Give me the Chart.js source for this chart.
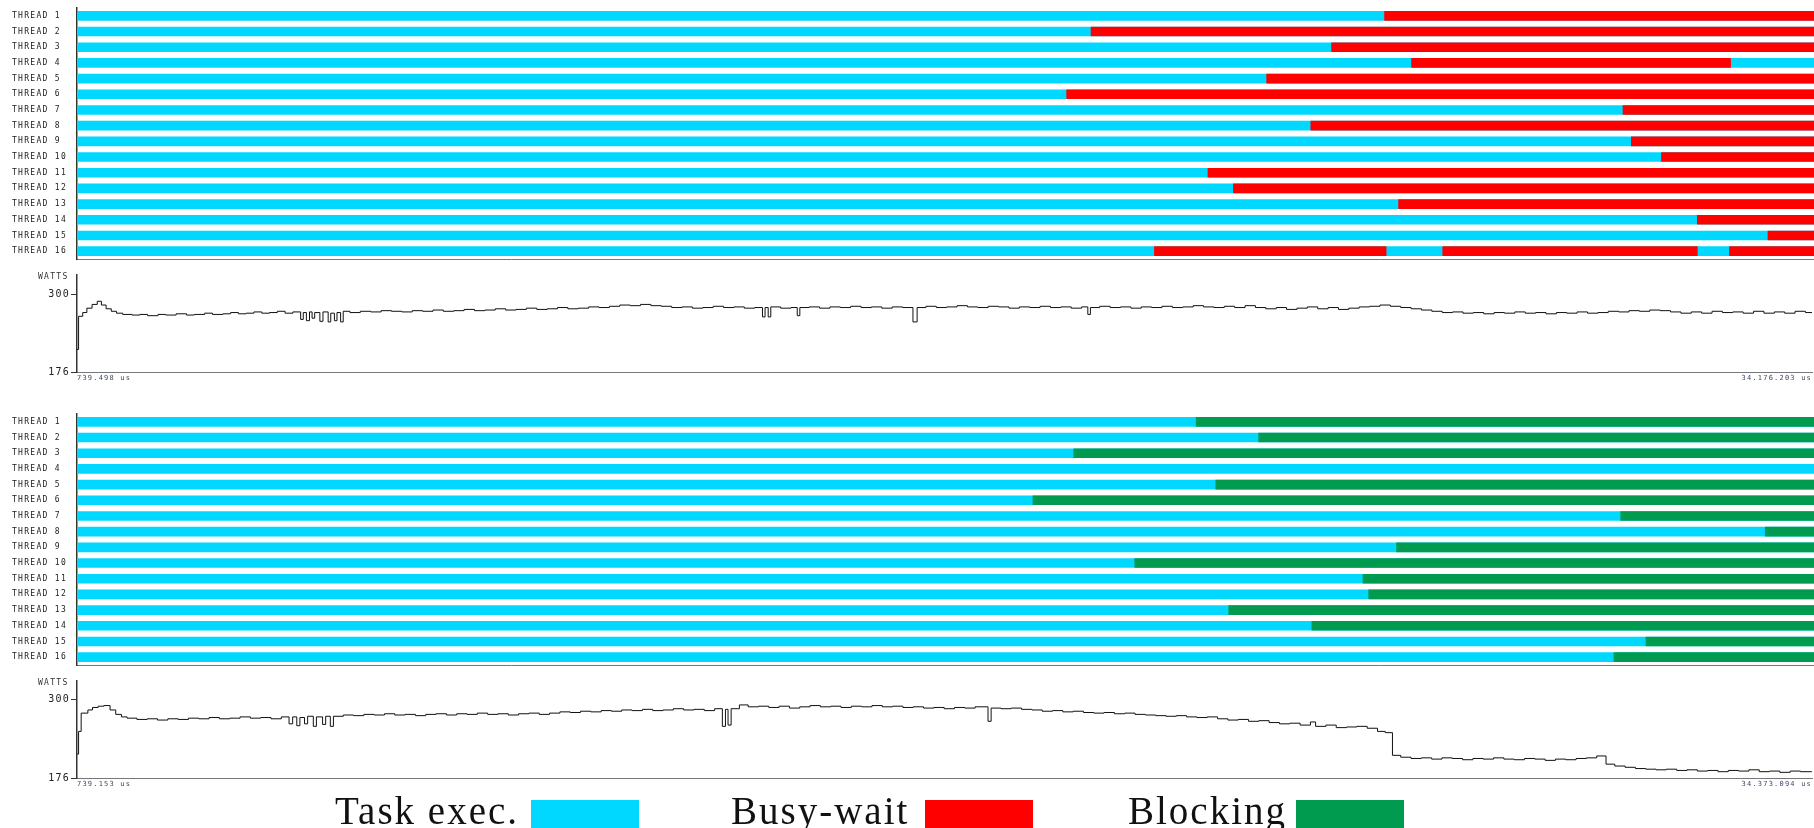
<!DOCTYPE html>
<html>
<head>
<meta charset="utf-8">
<script src="https://cdn.jsdelivr.net/npm/chart.js"></script>
<style>
  body { margin: 0; background: #fff; width: 1814px; height: 828px; overflow: hidden; position: relative; }
  canvas { position: absolute; left: 0; }
  .watts { position: absolute; left: 38px; font: 8px 'DejaVu Sans Mono'; letter-spacing: 1.3px; color: #333; }
  .leg { position: absolute; top: 791px; font: 39px 'Liberation Serif'; line-height: 39px; letter-spacing: 2px; color: #111; }
  .box { position: absolute; top: 800px; width: 108px; height: 30px; }
</style>
</head>
<body>
<canvas id="topThreads" width="1814" height="268" style="top:0px"></canvas>
<canvas id="topPower" width="1814" height="120" style="top:268px"></canvas>
<canvas id="botThreads" width="1814" height="268" style="top:406px"></canvas>
<canvas id="botPower" width="1814" height="120" style="top:674px"></canvas>
<div class="watts" style="top:272px">WATTS</div>
<div class="watts" style="top:678px">WATTS</div>

<div class="leg" style="left:335px">Task exec.</div><div class="box" style="left:531px;background:#00D8FF"></div>
<div class="leg" style="left:731px">Busy-wait</div><div class="box" style="left:925px;background:#FF0000"></div>
<div class="leg" style="left:1128px">Blocking</div><div class="box" style="left:1296px;background:#009B4E"></div>

<script>
// Colours
const EXEC = '#00D8FF';
const BUSY = '#FF0000';
const BLOCK = '#009B4E';

// Thread names
const threads = ['THREAD 1', 'THREAD 2', 'THREAD 3', 'THREAD 4', 'THREAD 5', 'THREAD 6', 'THREAD 7', 'THREAD 8',
                 'THREAD 9', 'THREAD 10', 'THREAD 11', 'THREAD 12', 'THREAD 13', 'THREAD 14', 'THREAD 15', 'THREAD 16'];

// Time ranges of the two runs (ms) and their end labels
const topRange = [0.739498, 34.176203];
const botRange = [0.739153, 34.373094];
const topTimeLabels = ['739.498 us', '34.176.203 us'];
const botTimeLabels = ['739.153 us', '34.373.094 us'];
const wattTicks = [176, 300];

// Busy-wait segments per thread, first run (ms)
const topBusy = [
  [[25.91, 34.18]],
  [[20.26, 34.18]],
  [[24.89, 34.18]],
  [[26.43, 32.57]],
  [[23.64, 34.18]],
  [[19.79, 34.18]],
  [[30.50, 34.18]],
  [[24.49, 34.18]],
  [[30.66, 34.18]],
  [[31.24, 34.18]],
  [[22.51, 34.18]],
  [[23.00, 34.18]],
  [[26.18, 34.18]],
  [[31.93, 34.18]],
  [[33.29, 34.18]],
  [[21.48, 25.94], [27.03, 31.93], [32.55, 34.18]]
];

// Blocking segments per thread, second run (ms)
const botBlock = [
  [[22.41, 34.38]],
  [[23.62, 34.38]],
  [[20.04, 34.38]],
  [],
  [[22.79, 34.38]],
  [[19.25, 34.38]],
  [[30.63, 34.38]],
  [[33.43, 34.38]],
  [[26.29, 34.38]],
  [[21.22, 34.38]],
  [[25.64, 34.38]],
  [[25.75, 34.38]],
  [[23.04, 34.38]],
  [[24.65, 34.38]],
  [[31.12, 34.38]],
  [[30.50, 34.38]]
];

// Power readings [time ms, watts], first run
const topPower = [
  [0.74,212],[0.77,265],[0.85,271],[0.93,278],[1.03,284],[1.13,289],[1.21,283],[1.30,277],[1.40,273],[1.50,270],
  [1.62,268],[1.80,267],[1.95,268],[2.10,266],[2.30,268],[2.45,267],[2.65,269],[2.85,267],[3.00,268],[3.20,270],
  [3.35,268],[3.55,269],[3.70,271],[3.85,269],[4.00,270],[4.15,272],[4.30,270],[4.45,271],[4.60,273],[4.75,270],
  [4.90,272],[5.05,260],[5.10,271],[5.16,258],[5.22,272],[5.27,262],[5.32,271],[5.42,257],[5.48,272],[5.58,256],
  [5.63,270],[5.70,258],[5.75,271],[5.82,256],[5.87,273],[6.00,271],[6.20,273],[6.40,272],[6.60,274],[6.80,273],
  [7.00,272],[7.20,274],[7.40,273],[7.60,275],[7.80,273],[8.00,274],[8.20,276],[8.40,274],[8.60,275],[8.80,277],
  [9.00,275],[9.20,276],[9.40,278],[9.60,276],[9.80,277],[10.00,279],[10.20,277],[10.40,278],[10.60,280],[10.80,279],
  [11.00,281],[11.20,283],[11.40,282],[11.60,284],[11.80,282],[12.00,281],[12.20,279],[12.40,280],[12.60,278],[12.80,279],
  [13.00,281],[13.20,279],[13.40,280],[13.60,278],[13.80,279],[13.95,264],[14.00,279],[14.06,264],[14.11,280],[14.30,278],
  [14.50,279],[14.62,266],[14.67,279],[14.85,280],[15.05,278],[15.25,280],[15.45,279],[15.65,281],[15.85,279],[16.05,280],
  [16.25,278],[16.45,280],[16.65,279],[16.85,256],[16.93,279],[17.10,281],[17.30,279],[17.50,280],[17.70,282],[17.90,280],
  [18.10,279],[18.30,281],[18.50,280],[18.70,278],[18.90,280],[19.10,279],[19.30,281],[19.50,279],[19.70,280],[19.90,278],
  [20.10,280],[20.22,268],[20.27,279],[20.45,281],[20.65,279],[20.85,280],[21.05,278],[21.25,280],[21.45,279],[21.65,281],
  [21.85,279],[22.05,280],[22.25,282],[22.45,280],[22.65,279],[22.85,281],[23.05,279],[23.25,282],[23.45,279],[23.65,277],
  [23.85,279],[24.05,276],[24.25,278],[24.45,280],[24.65,277],[24.85,279],[25.05,276],[25.25,278],[25.45,280],[25.65,281],
  [25.85,283],[26.05,281],[26.25,279],[26.45,277],[26.65,275],[26.85,273],[27.05,271],[27.25,272],[27.45,270],[27.65,271],
  [27.85,269],[28.05,271],[28.25,270],[28.45,272],[28.65,270],[28.85,271],[29.05,269],[29.25,271],[29.45,270],[29.65,272],
  [29.85,270],[30.05,271],[30.25,273],[30.45,272],[30.65,274],[30.85,273],[31.05,275],[31.25,274],[31.45,272],[31.65,270],
  [31.85,272],[32.05,270],[32.25,273],[32.45,271],[32.65,272],[32.85,270],[33.05,273],[33.25,270],[33.45,272],[33.65,270],
  [33.85,273],[34.05,271],[34.18,272]
];

// Power readings [time ms, watts], second run
const botPower = [
  [0.74,214],[0.77,250],[0.82,279],[0.95,284],[1.04,288],[1.15,290],[1.26,291],[1.38,284],[1.49,277],[1.60,273],
  [1.71,271],[1.90,269],[2.10,270],[2.30,268],[2.50,270],[2.70,269],[2.90,271],[3.10,270],[3.30,272],[3.50,270],
  [3.70,271],[3.90,273],[4.10,271],[4.30,272],[4.50,270],[4.70,273],[4.85,262],[4.92,273],[5.00,259],[5.06,272],
  [5.15,262],[5.21,274],[5.32,258],[5.38,273],[5.50,261],[5.56,274],[5.65,258],[5.71,274],[5.90,276],[6.10,275],
  [6.30,277],[6.50,276],[6.70,278],[6.90,276],[7.10,277],[7.30,275],[7.50,277],[7.70,278],[7.90,276],[8.10,278],
  [8.30,277],[8.50,279],[8.70,277],[8.90,278],[9.10,276],[9.30,278],[9.50,279],[9.70,277],[9.90,279],[10.10,281],
  [10.30,280],[10.50,282],[10.70,281],[10.90,283],[11.10,282],[11.30,284],[11.50,283],[11.70,285],[11.90,283],[12.10,284],
  [12.30,286],[12.50,284],[12.70,285],[12.90,283],[13.10,286],[13.25,258],[13.31,285],[13.36,260],[13.42,286],[13.58,292],
  [13.75,289],[13.95,290],[14.15,288],[14.35,290],[14.55,287],[14.75,289],[14.95,291],[15.15,289],[15.35,290],[15.55,288],
  [15.75,290],[15.95,289],[16.15,291],[16.35,289],[16.55,290],[16.75,288],[16.95,289],[17.15,287],[17.35,288],[17.55,286],
  [17.75,288],[17.95,287],[18.15,289],[18.40,266],[18.46,287],[18.65,286],[18.85,287],[19.05,285],[19.25,284],[19.45,282],
  [19.65,283],[19.85,281],[20.05,282],[20.25,280],[20.45,279],[20.65,280],[20.85,278],[21.05,279],[21.25,277],[21.45,276],
  [21.65,275],[21.85,274],[22.05,275],[22.25,273],[22.45,272],[22.65,273],[22.85,270],[23.05,268],[23.25,269],[23.45,266],
  [23.65,267],[23.85,264],[24.05,262],[24.25,263],[24.45,260],[24.65,265],[24.75,258],[24.95,260],[25.15,256],[25.35,257],
  [25.55,258],[25.75,255],[25.95,250],[26.10,248],[26.24,212],[26.40,209],[26.60,207],[26.80,208],[27.00,206],[27.20,208],
  [27.40,207],[27.60,205],[27.80,207],[28.00,206],[28.20,208],[28.40,206],[28.60,205],[28.80,207],[29.00,206],[29.20,204],
  [29.40,206],[29.60,205],[29.80,207],[30.00,208],[30.20,211],[30.38,198],[30.55,195],[30.75,193],[30.95,191],[31.15,190],
  [31.35,189],[31.55,190],[31.75,188],[31.95,189],[32.15,187],[32.35,188],[32.55,186],[32.75,188],[32.95,187],[33.15,189],
  [33.35,186],[33.55,187],[33.75,185],[33.95,187],[34.15,186],[34.37,186]
];

// canvas text spacing (the original uses a wide pixel font)
const spacing = (px) => ({
  id: 'spacing',
  beforeDraw(chart) { chart.ctx.letterSpacing = px; }
});

function threadChart(id, range, segments, segColor) {
  // task execution fills the whole run, drawn underneath
  const datasets = [{
    data: threads.map(() => range),
    backgroundColor: EXEC,
    grouped: false,
    barThickness: 9,
    order: 10
  }];
  const maxSeg = Math.max(...segments.map(s => s.length));
  for (let k = 0; k < maxSeg; k++) {
    datasets.push({
      data: segments.map(s => s[k] || null),
      backgroundColor: segColor,
      grouped: false,
      barThickness: 9,
      order: 0
    });
  }
  return new Chart(document.getElementById(id), {
    type: 'bar',
    data: { labels: threads, datasets: datasets },
    options: {
      indexAxis: 'y',
      responsive: false,
      animation: false,
      layout: { padding: { left: 12, top: 8, bottom: 1, right: 0 } },
      plugins: { legend: { display: false }, tooltip: { enabled: false } },
      scales: {
        x: {
          type: 'linear', min: range[0], max: range[1],
          grid: { display: false },
          ticks: { display: false },
          border: { display: true, color: '#777', width: 1 }
        },
        y: {
          grid: { display: false },
          border: { display: true, color: '#333', width: 1.5 },
          ticks: { crossAlign: 'far', padding: 0, color: '#222', font: { family: 'DejaVu Sans Mono', size: 8 } },
          afterFit: s => { s.width = 65; }
        }
      }
    },
    plugins: [spacing('1.3px')]
  });
}

function powerChart(id, range, points, yMax, labels) {
  return new Chart(document.getElementById(id), {
    type: 'line',
    data: {
      datasets: [{
        data: points.map(p => ({ x: p[0], y: p[1] })),
        borderColor: '#111',
        borderWidth: 1,
        pointRadius: 0,
        stepped: 'before'
      }]
    },
    options: {
      responsive: false,
      animation: false,
      layout: { padding: 0 },
      plugins: { legend: { display: false }, tooltip: { enabled: false } },
      scales: {
        x: {
          type: 'linear', min: range[0], max: range[1],
          grid: { display: false, drawTicks: false, tickLength: 0 },
          border: { display: true, color: '#777', width: 1 },
          afterBuildTicks: s => { s.ticks = [{ value: range[0] }, { value: range[1] }]; },
          ticks: {
            align: 'inner', maxRotation: 0, autoSkip: false, padding: 2,
            color: '#3a4a68', font: { family: 'DejaVu Sans Mono', size: 7 },
            callback: (v, i) => labels[i]
          },
          afterFit: s => { s.height = 16; }
        },
        y: {
          min: 176, max: yMax,
          grid: { display: true, drawOnChartArea: false, drawTicks: true, tickLength: 6, color: '#333' },
          border: { display: true, color: '#333', width: 1.5 },
          afterBuildTicks: s => { s.ticks = wattTicks.map(v => ({ value: v })); },
          ticks: { padding: 1, color: '#222', font: { family: 'DejaVu Sans Mono', size: 10 } },
          afterFit: s => { s.width = 77; }
        }
      }
    },
    plugins: [spacing('1.2px')]
  });
}

threadChart('topThreads', topRange, topBusy, BUSY);
powerChart('topPower', topRange, topPower, 331, topTimeLabels);
threadChart('botThreads', botRange, botBlock, BLOCK);
powerChart('botPower', botRange, botPower, 330, botTimeLabels);
</script>
</body>
</html>
